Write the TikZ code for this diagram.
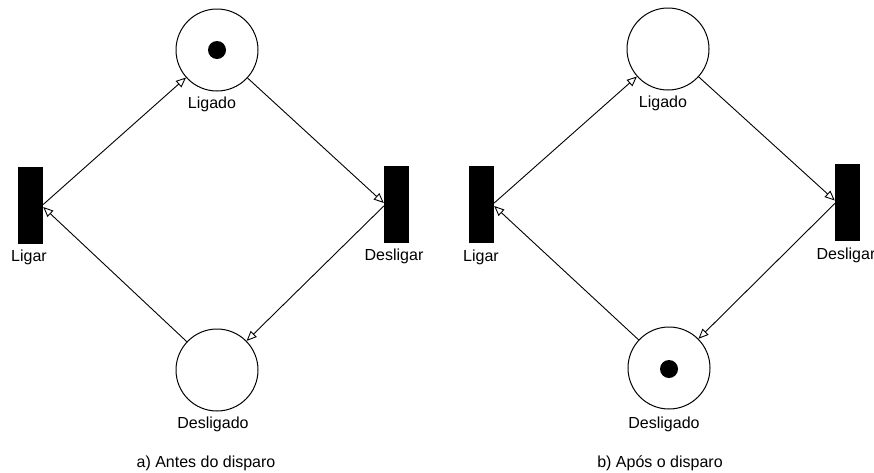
\documentclass[tikz,border=0pt]{standalone}
\usepackage{fontspec}
\setmainfont{Liberation Sans}
\usetikzlibrary{arrows.meta}
\begin{document}
\begin{tikzpicture}[x=1pt,y=-1pt,
  place/.style={circle,draw,line width=1pt,minimum size=82pt,inner sep=0pt},
  trans/.style={rectangle,fill=black,minimum width=25pt,minimum height=77pt,inner sep=0pt},
  token/.style={circle,fill=black,minimum size=18pt,inner sep=0pt},
  lbl/.style={inner sep=0pt,font=\fontsize{16}{19}\selectfont},
  arc/.style={line width=0.9pt,-{Triangle[open,length=10pt,width=8.5pt,line width=0.9pt]}}]
\useasboundingbox (0,0) rectangle (874,472);
% ---------- a) ----------
\node[place] (P1) at (217,50) {};
\node[token] (K1) at (217,50) {};
\node[place] (P2) at (217,370) {};
\node[trans] (T1) at (30.5,205.5) {};
\node[trans] (T2) at (396.5,204.5) {};
\node[lbl] (L1) at (212,104) {Ligado};
\node[lbl] (L2) at (213,424) {Desligado};
\node[lbl] (L3) at (29,257) {Ligar};
\node[lbl] (L4) at (394,256) {Desligar};
\node[lbl] (C1) at (206,463) {a) Antes do disparo};
\draw[arc] ([yshift=1pt]T1.east) -- (P1);
\draw[arc] (P1) -- ([yshift=1.5pt]T2.west);
\draw[arc] ([yshift=-1.5pt]T2.west) -- (P2);
\draw[arc] (P2) -- ([yshift=-1.5pt]T1.east);
% ---------- b) ----------
\node[place] (P3) at (668,49) {};
\node[place] (P4) at (669,368) {};
\node[token] (K2) at (669,369) {};
\node[trans] (T3) at (481.5,204.5) {};
\node[trans] (T4) at (847.5,202) {};
\node[lbl] (L5) at (663,103) {Ligado};
\node[lbl] (L6) at (664,424) {Desligado};
\node[lbl] (L7) at (481,257) {Ligar};
\node[lbl] (L8) at (846,255) {Desligar};
\node[lbl] (C2) at (660,463) {b) Após o disparo};
\draw[arc] ([yshift=1.5pt]T3.east) -- (P3);
\draw[arc] (P3) -- ([yshift=1.5pt]T4.west);
\draw[arc] ([yshift=-1.5pt]T4.west) -- (P4);
\draw[arc] (P4) -- ([yshift=-1.5pt]T3.east);
\end{tikzpicture}
\end{document}
